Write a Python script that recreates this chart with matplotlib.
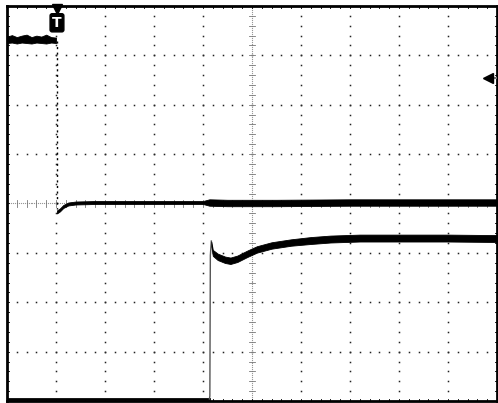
import numpy as np
import matplotlib
matplotlib.use("Agg")
import matplotlib.pyplot as plt

# ---- data (in graticule divisions) ----
# Channel 1: pre-trigger high level (band lower/upper edges)
ch1_pre_t = [-5.0, -4.9, -4.8, -4.7, -4.6, -4.5, -4.4, -4.3, -4.2, -4.1, -4.0]
ch1_pre_lo = [3.25, 3.26, 3.24, 3.26, 3.25, 3.24, 3.26, 3.25, 3.24, 3.26, 3.25]
ch1_pre_hi = [3.38, 3.41, 3.37, 3.40, 3.42, 3.37, 3.40, 3.38, 3.42, 3.37, 3.36]
# Channel 1: falling edge (dotted) at trigger
ch1_edge_t = [-3.98, -3.98]
ch1_edge_v = [3.30, -0.12]
# Channel 1: after edge (centre level and half band width)
ch1_t = [-3.98, -3.92, -3.85, -3.75, -3.6, -3.2, -2.0, -1.0, -0.87, -0.5, 0.5, 2.0, 3.5, 5.0]
ch1_c = [-0.17, -0.13, -0.06, -0.01, 0.01, 0.02, 0.02, 0.02, 0.02, 0.01, 0.01, 0.02, 0.02, 0.02]
ch1_w = [0.03, 0.03, 0.03, 0.03, 0.03, 0.03, 0.03, 0.03, 0.065, 0.065, 0.065, 0.065, 0.065, 0.065]

# Channel 2: baseline, rising edge, settle
ch2_base_t = [-5.0, -0.87]
ch2_base_v = [-3.96, -3.96]
ch2_edge_t = [-0.87, -0.86, -0.85, -0.83]
ch2_edge_v = [-3.96, -3.90, -1.05, -0.76]
ch2_t = [-0.83, -0.80, -0.70, -0.55, -0.44, -0.30, -0.10, 0.1, 0.4, 0.8, 1.2, 1.6, 2.2, 3.0, 4.0, 5.0]
ch2_c = [-0.82, -1.00, -1.08, -1.14, -1.16, -1.12, -1.02, -0.93, -0.85, -0.79, -0.75, -0.72, -0.70, -0.70, -0.70, -0.71]
ch2_w = [0.05, 0.06, 0.065, 0.065, 0.065, 0.065, 0.065, 0.065, 0.065, 0.065, 0.07, 0.07, 0.07, 0.07, 0.07, 0.07]

trigger_pos = -3.98
ref_marker = (4.82, 2.54)

# ---- figure ----
W, H = 498, 403
fig = plt.figure(figsize=(W / 100, H / 100), dpi=100)
fig.patch.set_facecolor("white")
L, R, T, B = 7, 497, 6, 401
ax = fig.add_axes([L / W, (H - B) / H, (R - L) / W, (B - T) / H])
ax.set_xlim(-5, 5)
ax.set_ylim(-4, 4)
ax.set_xticks([])
ax.set_yticks([])
for s in ax.spines.values():
    s.set_linewidth(2.0)
    s.set_color("black")

dotc = "#222222"
ms = 1.1
minor_x = np.round(np.arange(-5, 5.001, 0.2), 3)
minor_y = np.round(np.arange(-4, 4.001, 0.2), 3)

# dotted grid lines
for k in range(-4, 5):
    if k == 0:
        continue
    ax.plot(np.full_like(minor_y, k), minor_y, ls="none", marker="s", ms=ms,
            mec="none", mfc=dotc, zorder=1)
for j in range(-3, 4):
    if j == 0:
        continue
    ax.plot(minor_x, np.full_like(minor_x, j), ls="none", marker="s", ms=ms,
            mec="none", mfc=dotc, zorder=1)

# centre cross: light dense line + ticks
fine_y = np.arange(-4, 4.001, 0.04)
fine_x = np.arange(-5, 5.001, 0.04)
ax.plot(np.zeros_like(fine_y), fine_y, ls="none", marker="s", ms=0.8,
        mec="none", mfc="#999999", zorder=1)
ax.plot(fine_x, np.zeros_like(fine_x), ls="none", marker="s", ms=0.8,
        mec="none", mfc="#999999", zorder=1)
tl = 0.07
for y in minor_y:
    ax.plot([-tl, tl], [y, y], color="#777777", lw=0.6, zorder=1)
for x in minor_x:
    ax.plot([x, x], [-tl, tl], color="#777777", lw=0.6, zorder=1)

# border ticks
bt = 0.05
for y in minor_y:
    ax.plot([-5, -5 + bt], [y, y], color=dotc, lw=0.7, zorder=1, clip_on=False)
    ax.plot([5 - bt, 5], [y, y], color=dotc, lw=0.7, zorder=1, clip_on=False)
for x in minor_x:
    ax.plot([x, x], [4 - bt, 4], color=dotc, lw=0.7, zorder=1, clip_on=False)
    ax.plot([x, x], [-4, -4 + bt], color=dotc, lw=0.7, zorder=1, clip_on=False)

# ---- traces ----
ax.fill_between(ch1_pre_t, ch1_pre_lo, ch1_pre_hi, color="black", lw=0.6, zorder=3)
ax.plot(ch1_edge_t, ch1_edge_v, color="black", lw=1.0, ls=(0, (1.5, 2.5)), zorder=3)
c1 = np.array(ch1_c); w1 = np.array(ch1_w)
ax.fill_between(ch1_t, c1 - w1, c1 + w1, color="black", lw=0.6, zorder=3)

ax.plot(ch2_base_t, ch2_base_v, color="black", lw=2.0, zorder=3)
ax.plot(ch2_edge_t, ch2_edge_v, color="#555555", lw=1.0, zorder=3)
c2 = np.array(ch2_c); w2 = np.array(ch2_w)
ax.fill_between(ch2_t, c2 - w2, c2 + w2, color="black", lw=0.6, zorder=3)

# ---- markers ----
ax.plot([trigger_pos], [3.93], marker="v", ms=7, color="black", clip_on=False, zorder=5)
ax.text(trigger_pos, 3.66, "T", ha="center", va="center", color="white",
        fontsize=10, fontweight="bold", zorder=6,
        bbox=dict(boxstyle="round,pad=0.15", fc="black", ec="black"))
ax.plot([ref_marker[0] + 0.05, 4.98], [ref_marker[1]] * 2, color="#777777", lw=1.5, zorder=5)
ax.plot([ref_marker[0]], [ref_marker[1]], marker="<", ms=7, color="black", zorder=5)

fig.savefig("out.png", dpi=100, facecolor="white")
